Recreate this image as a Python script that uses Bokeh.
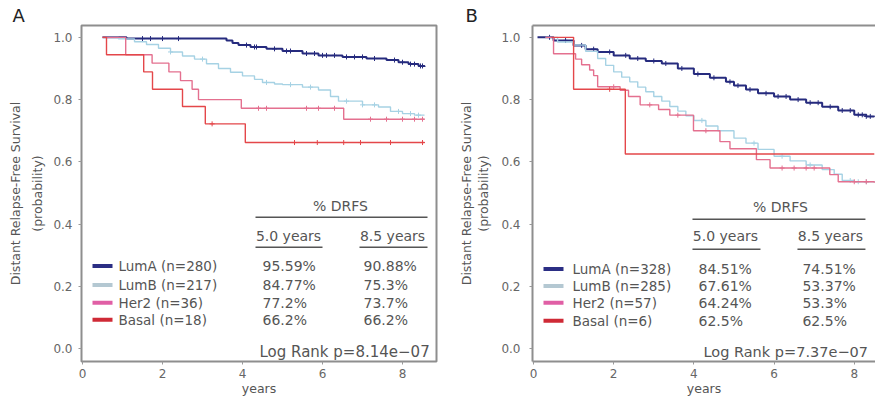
import numpy as np
from bokeh.plotting import figure
from bokeh.models import Range1d, ColumnDataSource, LinearAxis, FixedTicker, Label
from bokeh.layouts import row
from bokeh.embed import file_html
from bokeh.resources import INLINE
from bokeh.core.properties import value

# ---------------- data ----------------
groups = ["LumA", "LumB", "Her2", "Basal"]
curve_colors = ["#262b7e", "#a6d2e4", "#e4708f", "#e4474a"]
swatch_colors = ["#2b2e84", "#b4c8d2", "#e05fa5", "#cf2a36"]
x_ticks = [0, 2, 4, 6, 8]
x_tick_labels = ["0", "2", "4", "6", "8"]
y_ticks = [0.0, 0.2, 0.4, 0.6, 0.8, 1.0]
y_tick_labels = ["0.0", "0.2", "0.4", "0.6", "0.8", "1.0"]
col_headers = ["5.0 years", "8.5 years"]
y_title = "Distant Relapse-Free Survival\n(probability)"
x_title = "years"

# Panel A
A_n = [280, 217, 36, 18]
A_drfs5 = ["95.59%", "84.77%", "77.2%", "66.2%"]
A_drfs85 = ["90.88%", "75.3%", "73.7%", "66.2%"]
A_logrank = "Log Rank p=8.14e\u221207"

A_lumA_t = [0.5, 1.1, 3.6, 3.75, 3.9, 4.2, 4.6, 5.0, 5.5, 5.9, 6.5, 7.1, 7.6, 7.9, 8.15, 8.4, 8.55]
A_lumA_s = [1.0, 0.996, 0.99, 0.982, 0.975, 0.969, 0.963, 0.956, 0.948, 0.942, 0.937, 0.932, 0.927, 0.92, 0.914, 0.908, 0.905]
A_lumB_t = [0.5, 0.9, 1.3, 1.6, 1.9, 2.2, 2.5, 2.8, 3.1, 3.4, 3.7, 4.0, 4.3, 4.5, 4.8, 5.0, 5.5, 5.9, 6.2, 6.4, 7.0, 7.4, 7.7, 8.0, 8.3, 8.55]
A_lumB_s = [1.0, 0.995, 0.986, 0.977, 0.965, 0.953, 0.94, 0.93, 0.915, 0.9, 0.888, 0.876, 0.865, 0.855, 0.85, 0.848, 0.84, 0.831, 0.81, 0.795, 0.783, 0.776, 0.762, 0.755, 0.75, 0.75]
A_her2_t = [0.5, 1.08, 1.74, 2.16, 2.45, 2.74, 2.9, 3.97, 6.53, 8.55]
A_her2_s = [1.0, 0.944, 0.917, 0.889, 0.861, 0.833, 0.80, 0.772, 0.737, 0.737]
A_basal_t = [0.5, 0.6, 1.53, 1.75, 2.5, 3.07, 4.07, 8.55]
A_basal_s = [1.0, 0.944, 0.889, 0.833, 0.778, 0.722, 0.662, 0.662]

A_lumA_cens = [1.5, 1.7, 2.0, 2.4, 4.1, 4.3, 4.35, 4.8, 5.1, 5.2, 5.6, 5.8, 6.0, 6.1, 6.3, 6.6, 6.8, 7.0, 7.3, 7.8, 8.0, 8.2, 8.3, 8.45, 8.5]
A_lumB_cens = [2.2, 3.0, 4.6, 5.2, 5.7, 6.6, 7.0, 7.3, 7.9, 8.2, 8.4]
A_her2_cens = [4.4, 4.6, 5.6, 5.9, 6.3, 7.2, 7.6, 8.0, 8.3, 8.5]
A_basal_cens = [3.24, 5.3, 5.87, 6.53, 6.95, 7.7, 8.5]

# Panel B
B_n = [328, 285, 57, 6]
B_drfs5 = ["84.51%", "67.61%", "64.24%", "62.5%"]
B_drfs85 = ["74.51%", "53.37%", "53.3%", "62.5%"]
B_logrank = "Log Rank p=7.37e\u221207"

B_lumA_t = [0.1, 0.5, 1.0, 1.3, 1.6, 2.0, 2.4, 2.8, 3.2, 3.6, 4.0, 4.4, 4.8, 5.0, 5.3, 5.6, 6.0, 6.4, 6.8, 7.2, 7.6, 8.0, 8.3, 8.5]
B_lumA_s = [1.0, 0.99, 0.974, 0.962, 0.953, 0.942, 0.932, 0.924, 0.916, 0.9, 0.882, 0.87, 0.857, 0.845, 0.832, 0.82, 0.81, 0.80, 0.79, 0.777, 0.765, 0.751, 0.746, 0.745]
B_lumB_t = [0.3, 0.6, 1.0, 1.3, 1.6, 1.8, 2.0, 2.2, 2.4, 2.6, 2.8, 3.0, 3.2, 3.4, 3.6, 3.8, 4.0, 4.3, 4.6, 5.0, 5.3, 5.6, 6.0, 6.4, 6.8, 7.2, 7.5, 7.7, 8.0, 8.5]
B_lumB_s = [1.0, 0.985, 0.975, 0.955, 0.932, 0.91, 0.889, 0.872, 0.857, 0.84, 0.825, 0.81, 0.795, 0.778, 0.763, 0.748, 0.733, 0.715, 0.70, 0.676, 0.66, 0.64, 0.618, 0.603, 0.59, 0.575, 0.56, 0.54, 0.536, 0.534]
B_her2_t = [0.3, 0.5, 1.05, 1.2, 1.4, 1.5, 1.6, 2.16, 2.37, 2.66, 3.12, 3.4, 3.99, 4.65, 4.9, 5.56, 5.9, 7.39, 7.6, 8.5]
B_her2_s = [1.0, 0.947, 0.93, 0.912, 0.895, 0.877, 0.841, 0.83, 0.81, 0.783, 0.768, 0.75, 0.70, 0.665, 0.642, 0.607, 0.58, 0.559, 0.536, 0.533]
B_basal_t = [0.45, 1.0, 2.29, 8.5]
B_basal_s = [1.0, 0.833, 0.625, 0.625]

B_lumA_cens = [0.4, 0.8, 1.2, 1.5, 1.9, 2.3, 2.6, 3.0, 3.3, 3.7, 4.1, 4.5, 4.9, 5.1, 5.4, 5.8, 6.1, 6.3, 6.6, 6.9, 7.1, 7.4, 7.7, 7.9, 8.1, 8.2, 8.3, 8.4]
B_lumB_cens = [4.2, 5.5, 6.2, 6.9, 7.9, 8.1, 8.3]
B_her2_cens = [2.0, 2.9, 3.6, 4.3, 6.2, 6.5, 6.8, 7.0, 8.0, 8.3]
B_basal_cens = [1.9]

FONT = "DejaVu Sans"
TXT = "#555555"
FRAME = "#8e8e8e"


def make_panel(cfg):
    kx, x0, y1, ky = cfg["kx"], cfg["x0"], 37.0, 313.0

    def dx(px):
        return (px - x0) / kx

    def dy(py):
        return 1.0 - (py - y1) / ky

    p = figure(width=cfg["width"], height=398, output_backend="svg", toolbar_location=None,
               x_range=Range1d(-0.025, cfg["x_end"]), y_range=Range1d(-0.0415, 1.038),
               min_border_left=cfg["mbl"], min_border_right=cfg["mbr"],
               min_border_top=25, min_border_bottom=35)
    p.grid.visible = False
    p.background_fill_color = "white"
    p.border_fill_color = "white"
    if cfg["outline"]:
        p.outline_line_color = FRAME
        p.outline_line_width = 2
    else:
        p.outline_line_color = None

    # panel letter as title
    p.title.text = cfg["name"]
    p.title.align = "left"
    p.title.offset = cfg["letter_off"]
    p.title.standoff = 0
    p.title.text_font = FONT
    p.title.text_font_size = "18px"
    p.title.text_font_style = "normal"
    p.title.text_color = "#222222"

    for ax, ticks, labels in ((p.xaxis[0], x_ticks, x_tick_labels), (p.yaxis[0], y_ticks, y_tick_labels)):
        ax.ticker = FixedTicker(ticks=ticks)
        ax.major_label_overrides = {t: l for t, l in zip(ticks, labels)}
        ax.major_tick_out = 3
        ax.major_tick_in = 0
        ax.minor_tick_line_color = None
        ax.major_tick_line_color = "#999999"
        ax.major_label_text_font = FONT
        ax.major_label_text_font_size = "12px"
        ax.major_label_text_color = "#666666"
        ax.axis_label_text_font = FONT
        ax.axis_label_text_font_style = "normal"
        ax.axis_label_text_color = TXT
        if cfg["outline"]:
            ax.axis_line_color = None
        else:
            ax.axis_line_color = FRAME
            ax.axis_line_width = 2
    xa, ya = p.xaxis[0], p.yaxis[0]
    xa.major_label_standoff = 4
    xa.axis_label = x_title
    xa.axis_label_text_font_size = "12.5px"
    xa.axis_label_standoff = 0
    ya.major_label_standoff = cfg["ystand"]
    ya.axis_label = y_title
    ya.axis_label_text_font_size = "12.5px"
    ya.axis_label_text_line_height = cfg["ylh"]
    ya.axis_label_standoff = cfg["ylstand"]

    if not cfg["outline"]:
        top = LinearAxis(ticker=FixedTicker(ticks=[]), major_label_text_font_size="0px",
                         major_tick_line_color=None, minor_tick_line_color=None,
                         axis_line_color=FRAME, axis_line_width=2)
        p.add_layout(top, "above")

    # curves
    for (t, s, cens), col, lw in zip(cfg["curves"], curve_colors, [2.0, 1.4, 1.4, 1.4]):
        p.step(t, s, mode="after", line_color=col, line_width=lw)
        t_arr = np.asarray(t)
        s_arr = np.asarray(s)
        idx = np.searchsorted(t_arr, np.asarray(cens), side="right") - 1
        p.scatter(cens, s_arr[idx], marker="cross", size=5, line_color=col, line_width=1)

    # table header
    hx, hy = cfg["hdr"]
    p.add_layout(Label(x=dx(hx), y=dy(hy), text="% DRFS", text_font=FONT, text_font_size="14px",
                       text_color=TXT, text_align="center", text_baseline="middle"))
    r0, r1, ry = cfg["rule"]
    p.segment(x0=[dx(r0)], y0=[dy(ry)], x1=[dx(r1)], y1=[dy(ry)], line_color="#555555", line_width=1.5)
    for txt, (cx, ux0, ux1) in zip(col_headers, cfg["cols"]):
        p.add_layout(Label(x=dx(cx), y=dy(237), text=txt, text_font=FONT, text_font_size="14px",
                           text_color=TXT, text_align="center", text_baseline="middle"))
        p.segment(x0=[dx(ux0)], y0=[dy(cfg["uy"])], x1=[dx(ux1)], y1=[dy(cfg["uy"])],
                  line_color="#555555", line_width=1.5)

    rows_y = [dy(v) for v in cfg["rows"]]
    sw0, sw1 = cfg["swatch"]
    p.segment(x0=[dx(sw0)] * 4, y0=rows_y, x1=[dx(sw1)] * 4, y1=rows_y,
              line_color=swatch_colors, line_width=4)
    names = [f"{g} (n={n})" for g, n in zip(groups, cfg["n"])]
    src = ColumnDataSource(dict(y=rows_y, name=names, v5=cfg["d5"], v85=cfg["d85"],
                                xn=[dx(cfg["namex"])] * 4, x5=[dx(cfg["c1x"])] * 4,
                                x85=[dx(cfg["c2x"])] * 4))
    for xcol, tcol, fs in (("xn", "name", "13.5px"), ("x5", "v5", "14px"), ("x85", "v85", "14px")):
        p.text(x=xcol, y="y", text=tcol, source=src, text_font=value(FONT), text_font_size=fs,
               text_color=TXT, text_baseline="middle", text_align="left")
    p.add_layout(Label(x=dx(cfg["lr"][0]), y=dy(cfg["lr"][1]), text=cfg["logrank"],
                       text_font=FONT, text_font_size=cfg["lrfs"], text_color=TXT,
                       text_align="left", text_baseline="middle"))
    return p


cfgA = dict(name="A", width=440, mbl=81, mbr=4, x_end=8.85, kx=40.0, x0=82.0, outline=True,
            letter_off=-69, ystand=6, ylh=1.5, ylstand=5,
            curves=[(A_lumA_t, A_lumA_s, A_lumA_cens), (A_lumB_t, A_lumB_s, A_lumB_cens),
                    (A_her2_t, A_her2_s, A_her2_cens), (A_basal_t, A_basal_s, A_basal_cens)],
            hdr=(340, 207), rule=(255, 427, 218),
            cols=[(288, 255, 322), (392, 359, 427)], uy=248, rows=[267, 286, 304, 321],
            swatch=(92, 112), namex=118, c1x=262, c2x=363, lr=(259, 353), lrfs="15px",
            n=A_n, d5=A_drfs5, d85=A_drfs85, logrank=A_logrank)
cfgB = dict(name="B", width=435, mbl=92, mbr=0, x_end=8.53, kx=40.1, x0=533.0, outline=False,
            letter_off=-67, ystand=9, ylh=1.15, ylstand=7,
            curves=[(B_lumA_t, B_lumA_s, B_lumA_cens), (B_lumB_t, B_lumB_s, B_lumB_cens),
                    (B_her2_t, B_her2_s, B_her2_cens), (B_basal_t, B_basal_s, B_basal_cens)],
            hdr=(780, 208), rule=(692, 865, 220),
            cols=[(725, 692, 760), (830, 797, 865)], uy=250, rows=[270, 287, 304, 322],
            swatch=(543, 563), namex=572, c1x=698, c2x=802, lr=(703, 353), lrfs="14.5px",
            n=B_n, d5=B_drfs5, d85=B_drfs85, logrank=B_logrank)

pA = make_panel(cfgA)
pB = make_panel(cfgB)
layout = row(pA, pB, spacing=0)
open("out.html", "w").write(file_html(layout, INLINE))
